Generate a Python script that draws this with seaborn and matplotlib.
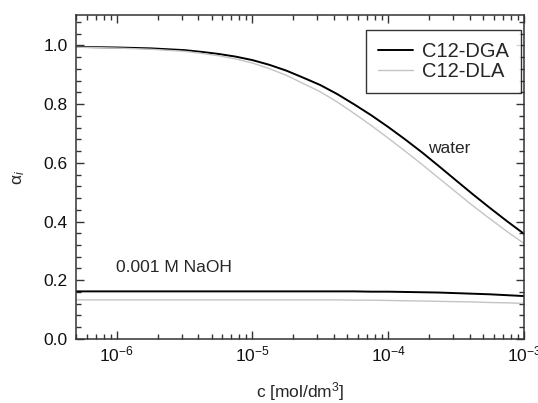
import numpy as np
import pandas as pd
import matplotlib
matplotlib.use("Agg")
import matplotlib.pyplot as plt
from matplotlib.ticker import MultipleLocator, LogLocator, NullFormatter, FormatStrFormatter
from matplotlib.lines import Line2D
import seaborn as sns

# concentration grid (mol/dm3)
conc = [5.0e-7, 1.0e-6, 1.78e-6, 3.16e-6, 4.22e-6, 5.62e-6, 7.50e-6, 1.0e-5,
        1.33e-5, 1.78e-5, 2.37e-5, 3.16e-5, 4.22e-5, 5.62e-5, 7.50e-5, 1.0e-4,
        1.33e-4, 1.78e-4, 2.37e-4, 3.16e-4, 4.22e-4, 5.62e-4, 7.50e-4, 1.0e-3]

# degree of ionisation in water
dga_water = [0.995, 0.993, 0.990, 0.984, 0.978, 0.971, 0.962, 0.950,
             0.934, 0.914, 0.890, 0.865, 0.834, 0.799, 0.762, 0.722,
             0.680, 0.635, 0.588, 0.540, 0.492, 0.446, 0.401, 0.358]
dla_water = [0.994, 0.991, 0.987, 0.980, 0.973, 0.965, 0.954, 0.940,
             0.921, 0.898, 0.870, 0.842, 0.807, 0.768, 0.727, 0.684,
             0.640, 0.594, 0.547, 0.500, 0.453, 0.409, 0.366, 0.325]

# degree of ionisation in 0.001 M NaOH
dga_naoh = [0.162, 0.162, 0.162, 0.162, 0.162, 0.162, 0.162, 0.162,
            0.162, 0.162, 0.162, 0.162, 0.162, 0.162, 0.161, 0.161,
            0.160, 0.159, 0.158, 0.156, 0.154, 0.152, 0.149, 0.146]
dla_naoh = [0.133, 0.133, 0.133, 0.133, 0.133, 0.133, 0.133, 0.133,
            0.133, 0.133, 0.133, 0.133, 0.133, 0.132, 0.132, 0.131,
            0.130, 0.129, 0.128, 0.127, 0.126, 0.124, 0.123, 0.121]

surfactants = ["C12-DGA", "C12-DLA"]
colors = {"C12-DGA": "#000000", "C12-DLA": "#c4c4c4"}
widths = {"C12-DGA": 1.4, "C12-DLA": 1.0}

sns.set_theme(style="ticks")
plt.rcParams.update({
    "font.family": ["Liberation Sans", "DejaVu Sans"],
    "mathtext.fontset": "custom",
    "mathtext.rm": "Liberation Sans",
    "mathtext.it": "Liberation Sans:italic",
    "axes.unicode_minus": False,
})

frames = []
for name, water, naoh in [("C12-DGA", dga_water, dga_naoh),
                          ("C12-DLA", dla_water, dla_naoh)]:
    frames.append(pd.DataFrame({"c": conc, "alpha": water,
                                "surfactant": name, "medium": "water"}))
    frames.append(pd.DataFrame({"c": conc, "alpha": naoh,
                                "surfactant": name, "medium": "NaOH"}))
df = pd.concat(frames, ignore_index=True)

fig = plt.figure(figsize=(5.38, 4.03), dpi=100)
ax = fig.add_axes([0.141, 0.159, 0.833, 0.804])

for name in surfactants:
    sub = df[df["surfactant"] == name]
    sns.lineplot(data=sub, x="c", y="alpha", units="medium", estimator=None,
                 color=colors[name], linewidth=widths[name], ax=ax, legend=False)

ax.set_xscale("log")
ax.set_xlim(5e-7, 1e-3)
ax.set_ylim(0.0, 1.104)

ax.yaxis.set_major_locator(MultipleLocator(0.2))
ax.yaxis.set_minor_locator(MultipleLocator(0.04))
ax.yaxis.set_major_formatter(FormatStrFormatter("%.1f"))
ax.xaxis.set_major_locator(LogLocator(base=10, numticks=10))
ax.xaxis.set_minor_locator(LogLocator(base=10, subs=np.arange(2, 10), numticks=20))
ax.xaxis.set_minor_formatter(NullFormatter())

ax.tick_params(which="both", direction="in", top=True, right=True,
               labelsize=12.5, colors="#333333", labelcolor="#111111", pad=6)
ax.tick_params(axis="x", which="major", pad=4)
ax.tick_params(which="major", length=6, width=1)
ax.tick_params(which="minor", length=3.5, width=1)
for sp in ax.spines.values():
    sp.set_linewidth(1.1)
    sp.set_color("#333333")

ax.set_xlabel("c [mol/dm$^3$]", fontsize=12.5, labelpad=11)
ax.set_ylabel("α$_i$", fontsize=12.5, labelpad=12)

ax.text(2.81e-4, 0.650, "water", fontsize=12.5, ha="center", va="center")
ax.text(2.62e-6, 0.245, "0.001 M NaOH", fontsize=12.5, ha="center", va="center")

handles = [Line2D([], [], color=colors[n], linewidth=widths[n]) for n in surfactants]
leg = ax.legend(handles, surfactants, loc="upper right", fontsize=14.5,
                frameon=True, fancybox=False, handlelength=1.75,
                handletextpad=0.45, borderpad=0.6, labelspacing=0.05,
                borderaxespad=0.0, bbox_to_anchor=(0.993, 0.954))
leg.get_frame().set_edgecolor("#000000")
leg.get_frame().set_linewidth(1.0)

fig.savefig("out.png", dpi=100)
